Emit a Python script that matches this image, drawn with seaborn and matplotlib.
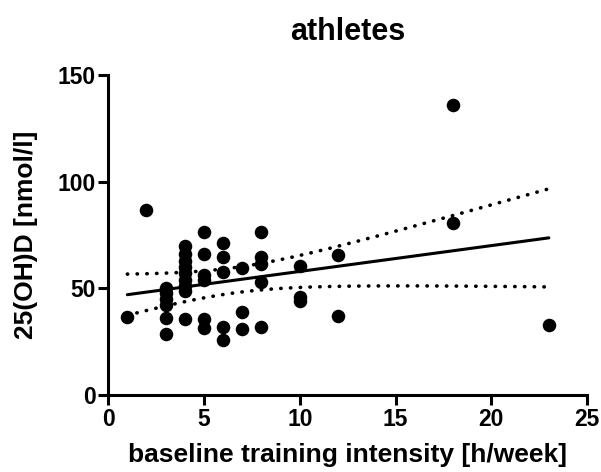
import numpy as np
import pandas as pd
import matplotlib
matplotlib.use("Agg")
import matplotlib.pyplot as plt
import seaborn as sns

# Data
hours = [1, 2,
         3, 3, 3, 3, 3, 3,
         4, 4, 4, 4, 4, 4, 4, 4, 4,
         5, 5, 5, 5, 5, 5,
         6, 6, 6, 6, 6,
         7, 7, 7,
         8, 8, 8, 8, 8,
         10, 10, 10,
         12, 12,
         18, 18,
         23]
vitd = [36.5, 86.7,
        50, 48, 45, 42, 36, 28.5,
        70, 66, 63, 60, 57, 54, 51, 49, 35.5,
        76.5, 66, 56.5, 54, 35.5, 31.5,
        71.5, 64.5, 57.5, 32, 26,
        59.5, 39, 31,
        76.5, 64.5, 61.5, 53, 32,
        60.5, 46, 44,
        65.5, 37,
        136, 80.5,
        33]

title = "athletes"
xlabel = "baseline training intensity [h/week]"
ylabel = "25(OH)D [nmol/l]"
xticks = [0, 5, 10, 15, 20, 25]
yticks = [0, 50, 100, 150]

df = pd.DataFrame({"hours": hours, "vitd": vitd})

sns.set_theme(style="ticks")
plt.rcParams["font.family"] = ["Liberation Sans", "DejaVu Sans"]
plt.rcParams["font.weight"] = "bold"
plt.rcParams["text.color"] = "black"
plt.rcParams["axes.labelcolor"] = "black"
plt.rcParams["xtick.color"] = "black"
plt.rcParams["ytick.color"] = "black"

fig = plt.figure(figsize=(6.01, 4.72), dpi=100)
ax = fig.add_axes([0.18, 0.163, 0.797, 0.678])

sns.scatterplot(data=df, x="hours", y="vitd", ax=ax, color="black",
                s=95, edgecolor="black", linewidth=0, zorder=3)

# Linear regression with 95% confidence band (dotted)
x = np.asarray(hours, float)
y = np.asarray(vitd, float)
n = len(x)
b, a = np.polyfit(x, y, 1)
xs = np.linspace(x.min(), x.max(), 200)
yhat = a + b * xs
resid = y - (a + b * x)
s = np.sqrt(np.sum(resid ** 2) / (n - 2))
sxx = np.sum((x - x.mean()) ** 2)
se = s * np.sqrt(1.0 / n + (xs - x.mean()) ** 2 / sxx)
tval = 2.018
line_df = pd.DataFrame({"x": xs, "fit": yhat,
                        "lo": yhat - tval * se, "hi": yhat + tval * se})

sns.lineplot(data=line_df, x="x", y="fit", ax=ax, color="black", linewidth=2.2)
for col in ["lo", "hi"]:
    l = sns.lineplot(data=line_df, x="x", y=col, ax=ax, color="black", linewidth=2.6)
    l.lines[-1].set_linestyle((0, (0.1, 2.6)))
    l.lines[-1].set_dash_capstyle("round")

ax.set_xlim(0, 25)
ax.set_ylim(0, 150)
ax.set_xticks(xticks)
ax.set_yticks(yticks)
ax.set_xticklabels([str(t) for t in xticks], fontsize=16.5, fontweight="bold")
ax.set_yticklabels([str(t) for t in yticks], fontsize=16.5, fontweight="bold")
ax.set_xlabel(xlabel, fontsize=19, fontweight="bold", labelpad=9)
ax.set_ylabel(ylabel, fontsize=19, fontweight="bold", labelpad=14)
ax.set_title(title, fontsize=22, fontweight="bold", pad=25)

for side in ["top", "right"]:
    ax.spines[side].set_visible(False)
for side in ["left", "bottom"]:
    ax.spines[side].set_linewidth(2.2)
    ax.spines[side].set_color("black")
ax.tick_params(axis="both", width=2.2, length=7, color="black", pad=2,
               labelcolor="black")
ax.spines["left"].set_bounds(0, 150)
ax.spines["bottom"].set_bounds(0, 25)

fig.savefig("out.png", dpi=100)
